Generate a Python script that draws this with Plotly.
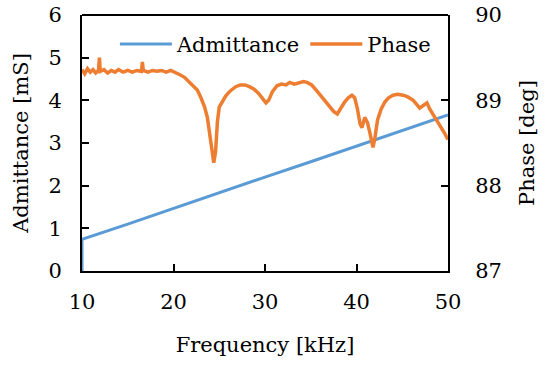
import plotly.graph_objects as go

# Admittance data (mS)
freq_adm = [10.0, 10.0, 15.0, 20.0, 24.3, 24.6, 30.0, 35.0, 40.0, 45.0, 50.0]
admittance = [0.0, 0.74, 1.10, 1.47, 1.78, 1.81, 2.20, 2.56, 2.93, 3.29, 3.66]

# Phase data (deg)
freq_ph = [10.0, 10.3, 10.6, 10.9, 11.2, 11.5, 11.8, 11.9, 12.0, 12.4, 12.8, 13.2, 13.6, 14.0,
           14.5, 15.0, 15.5, 16.0, 16.5, 16.6, 16.7, 17.2, 17.7, 18.2, 18.7, 19.2, 19.7, 20.2,
           20.7, 21.2, 21.7, 22.2, 22.6, 23.0, 23.4, 23.7, 24.0, 24.2, 24.4, 24.6, 24.8, 25.0,
           25.3, 25.7, 26.2, 26.8, 27.3, 27.8, 28.3, 28.8, 29.3, 29.7, 30.1, 30.4, 30.8, 31.3,
           31.8, 32.3, 32.7, 33.2, 33.7, 34.2, 34.6, 35.1, 35.6, 36.0, 36.5, 37.0, 37.5, 37.9,
           38.3, 38.7, 39.1, 39.5, 39.8, 40.1, 40.4, 40.6, 40.9, 41.2, 41.5, 41.8, 42.0, 42.3,
           42.7, 43.1, 43.5, 44.0, 44.5, 45.1, 45.6, 46.2, 46.6, 46.9, 47.3, 47.7, 48.0, 48.4,
           48.8, 49.2, 49.6, 50.0]
phase = [89.36, 89.31, 89.37, 89.33, 89.36, 89.32, 89.35, 89.50, 89.34, 89.36, 89.32, 89.35, 89.33, 89.36,
         89.33, 89.35, 89.33, 89.35, 89.34, 89.45, 89.35, 89.33, 89.35, 89.34, 89.35, 89.33, 89.35, 89.33,
         89.30, 89.27, 89.22, 89.17, 89.12, 89.03, 88.92, 88.80, 88.58, 88.38, 88.27, 88.40, 88.75, 88.92,
         88.98, 89.05, 89.11, 89.16, 89.18, 89.18, 89.16, 89.13, 89.08, 89.02, 88.97, 89.00, 89.10, 89.17,
         89.19, 89.18, 89.21, 89.19, 89.20, 89.22, 89.21, 89.18, 89.12, 89.07, 89.00, 88.93, 88.87, 88.84,
         88.92, 88.98, 89.03, 89.06, 89.03, 88.90, 88.72, 88.68, 88.80, 88.74, 88.60, 88.45, 88.55, 88.77,
         88.90, 88.98, 89.03, 89.06, 89.07, 89.06, 89.04, 89.00, 88.95, 88.91, 88.94, 88.97, 88.90, 88.83,
         88.77, 88.70, 88.62, 88.54]

x_ticks = [10, 20, 30, 40, 50]
y1_ticks = [0, 1, 2, 3, 4, 5, 6]
y2_ticks = [87, 88, 89, 90]

FONT = "DejaVu Serif"

fig = go.Figure()
fig.add_trace(go.Scatter(x=freq_adm, y=admittance, name="Admittance", mode="lines",
                         line=dict(color="#5B9BD5", width=3)))
fig.add_trace(go.Scatter(x=freq_ph, y=phase, name="Phase", mode="lines", yaxis="y2",
                         line=dict(color="#ED7D31", width=3.5)))

axis_common = dict(showline=True, linecolor="black", linewidth=2, ticks="inside",
                   tickcolor="black", ticklen=7, tickwidth=2, showgrid=False, zeroline=False,
                   automargin=False, ticklabeloverflow="allow",
                   tickfont=dict(family=FONT, size=21, color="black"))

fig.update_layout(
    width=550, height=365,
    margin=dict(l=82, r=102, t=15, b=94),
    paper_bgcolor="white", plot_bgcolor="white",
    font=dict(family=FONT, size=21, color="black"),
    xaxis=dict(range=[10, 50], tickvals=x_ticks, mirror=False,
               title=dict(text="Frequency [kHz]", font=dict(family=FONT, size=21), standoff=24),
               ticklabelstandoff=11, **axis_common),
    yaxis=dict(range=[0, 6], tickvals=y1_ticks, mirror=False,
               title=dict(text="Admittance [mS]", font=dict(family=FONT, size=21), standoff=14),
               ticklabelstandoff=14, **axis_common),
    yaxis2=dict(range=[87, 90], tickvals=y2_ticks, overlaying="y", side="right",
                title=dict(text="Phase [deg]", font=dict(family=FONT, size=21), standoff=18),
                ticklabelstandoff=21, **axis_common),
    legend=dict(orientation="h", x=0.09, y=0.885, xanchor="left", yanchor="middle",
                itemwidth=52, bgcolor="rgba(0,0,0,0)", font=dict(family=FONT, size=21)),
    showlegend=True,
)
# top border line
fig.add_shape(type="line", xref="paper", yref="paper", x0=0, x1=1, y0=1, y1=1,
              line=dict(color="black", width=2))

fig.write_html("out.html", config={"displayModeBar": False},
               post_script="document.body.style.margin='0';")
